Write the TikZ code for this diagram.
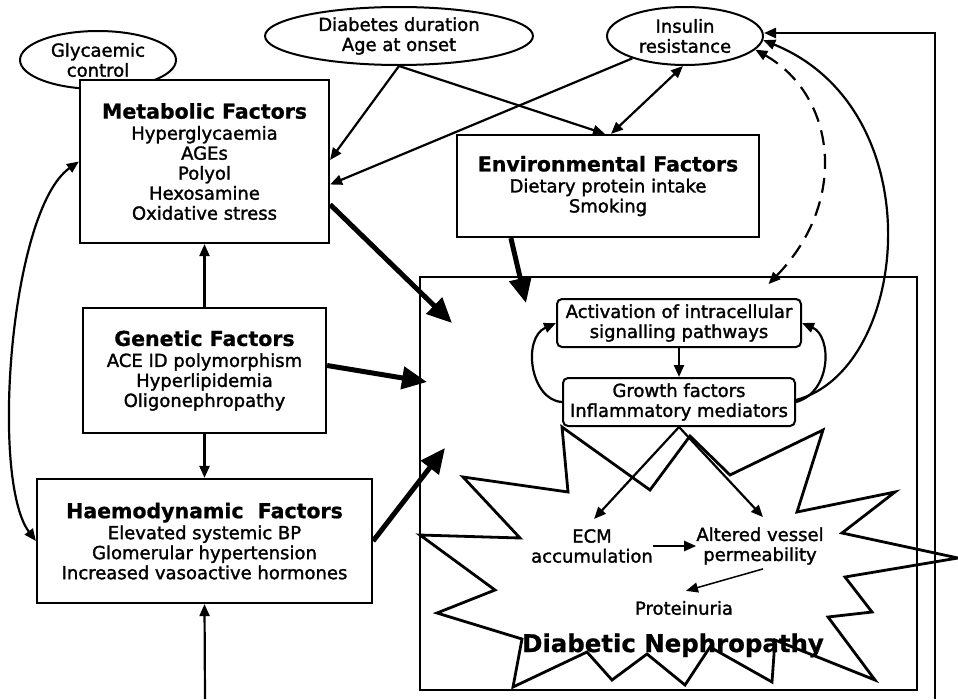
\documentclass[tikz,border=0pt]{standalone}
\usepackage{fontspec}
\setmainfont{DejaVu Sans}[UprightFeatures={FakeBold=1.6}, BoldFeatures={FakeBold=0.8}]
\usetikzlibrary{arrows.meta,shapes.geometric,calc}
\begin{document}
\begin{tikzpicture}[x=1pt,y=-1pt,
  every node/.style={inner sep=0pt, font=\fontsize{18}{20}\selectfont, align=center},
  fbox/.style={draw, line width=2.2pt, fill=white},
  rbox/.style={draw, line width=2pt, fill=white, rounded corners=5pt},
  oval/.style={draw, ellipse, line width=2pt, fill=white},
  arr/.style={line width=2.2pt, -{Triangle[length=12pt,width=10pt]}},
  barr/.style={line width=2.2pt, {Triangle[length=12pt,width=10pt]}-{Triangle[length=12pt,width=10pt]}},
  fat/.style={line width=5pt, -{Triangle[length=25pt,width=22pt]}},
  dasharr/.style={line width=2.2pt, dash pattern=on 15pt off 9pt, {Triangle[length=12pt,width=10pt]}-{Triangle[length=12pt,width=10pt]}}
]
\useasboundingbox (0,0) rectangle (958,699);

% ellipses
\node[oval, minimum width=156pt, minimum height=58pt] (gly) at (98,60) {Glycaemic\\control};
\node[oval, minimum width=268pt, minimum height=58pt] (dia) at (399,36) {Diabetes duration\\Age at onset};
\node[oval, minimum width=156pt, minimum height=58pt] (ins) at (685,36) {Insulin\\resistance};

% factor boxes
\node[fbox, minimum width=249pt, minimum height=163pt] (met) at (204.5,161.5)
  {{\fontsize{20.5}{20}\selectfont\bfseries Metabolic Factors}\\[1pt]Hyperglycaemia\\AGEs\\Polyol\\Hexosamine\\Oxidative stress};
\node[fbox, minimum width=302pt, minimum height=102pt] (env) at (608,186)
  {{\fontsize{20.5}{20}\selectfont\bfseries Environmental Factors}\\[1pt]Dietary protein intake\\Smoking};
\node[fbox, minimum width=243pt, minimum height=125pt] (gen) at (204.5,370.5)
  {{\fontsize{20.5}{20}\selectfont\bfseries Genetic Factors}\\[1pt]ACE ID polymorphism\\Hyperlipidemia\\Oligonephropathy};
\node[fbox, minimum width=335pt, minimum height=124pt] (hae) at (204.5,541)
  {{\fontsize{20.5}{20}\selectfont\bfseries Haemodynamic\ \ Factors}\\[1pt]Elevated systemic BP\\Glomerular hypertension\\Increased vasoactive hormones};

% big box
\node[draw, line width=1.8pt, minimum width=497pt, minimum height=413pt] (dn) at (668.5,483.5) {};

% inner boxes
\node[rbox, minimum width=244pt, minimum height=48pt] (act) at (679,323) {Activation of intracellular\\signalling pathways};
\node[rbox, minimum width=232pt, minimum height=48pt] (gro) at (679,402) {Growth factors\\Inflammatory mediators};

% starburst
\draw[line width=2.8pt, line join=miter, miter limit=20]
  (562,427) -- (650,490) -- (690,436) -- (730,475) -- (823,430) -- (797,512) -- (895,492) -- (842,533)
  -- (958,558) -- (845,577) -- (872,612) -- (828,617) -- (875,680) -- (775,640) -- (772,682) -- (710,647)
  -- (685,685) -- (647,654) -- (612,680) -- (587,652) -- (513,687) -- (522,639) -- (437,613) -- (495,590)
  -- (420,535) -- (520,538) -- (463,477) -- (568,492) -- cycle;

% star texts
\node (ecm) at (592,546) {ECM\\accumulation};
\node (alt) at (760,546) {Altered vessel\\permeability};
\node (pro) at (684,608) {Proteinuria};
\node[anchor=base, font=\fontsize{24.4}{26}\selectfont\bfseries] (dnl) at (673,652) {Diabetic Nephropathy};

% coordinates
\coordinate (tM) at (452,323);
\coordinate (tG) at (427,382);
\coordinate (tH) at (445,448);
\coordinate (tE) at (526,303);
\coordinate (hb) at (205,699);
\coordinate (fb) at (935,699);

% thin arrows
\draw[arr] (dia.south) -- ([yshift=1.5pt]met.east);
\draw[arr] (dia.south) -- ([xshift=-3pt]env.north);
\draw[arr] (ins.203) -- ([yshift=-23pt]met.east);
\draw[barr] ([xshift=-2pt]ins.south) -- ([xshift=3pt]env.north);
\draw[arr] (gen.north) -- (met.south);
\draw[arr] (gen.south) -- (hae.north);
\draw[arr] (hb) -- (hae.south);
\draw[barr] (met.west) .. controls (10,210) and (-10,480) .. (hae.west);
\draw[arr] (fb) |- ([yshift=3pt]ins.east);

% thick arrows
\draw[fat] ([yshift=-43pt]met.east) -- (tM);
\draw[fat] ([yshift=5pt]gen.east) -- (tG);
\draw[fat] (hae.east) -- (tH);
\draw[fat] ([xshift=55pt]env.south west) -- (tE);

% inner arrows
\draw[arr] (act.south) -- (gro.north);
\draw[arr] (gro.west) .. controls (530,400) and (522,338) .. (act.west);
\draw[arr] (gro.east) .. controls (832,392) and (832,336) .. (act.east);
\draw[arr] ([yshift=2pt]gro.east) .. controls (910,370) and (935,110) .. (ins.-3);
\draw[dasharr] (ins.-11) .. controls (835,95) and (850,200) .. ([xshift=100pt,yshift=-8pt]dn.north);
\draw[arr] (gro.south) -- ([xshift=2pt,yshift=10pt]ecm.north);
\draw[arr] (gro.south) -- ([xshift=3pt,yshift=10pt]alt.north);
\draw[arr] (ecm.east) -- (alt.west);
\draw[arr, line width=1.5pt] ([xshift=3pt,yshift=-4pt]alt.south) -- ([xshift=2pt,yshift=10pt]pro.north);
\end{tikzpicture}
\end{document}
